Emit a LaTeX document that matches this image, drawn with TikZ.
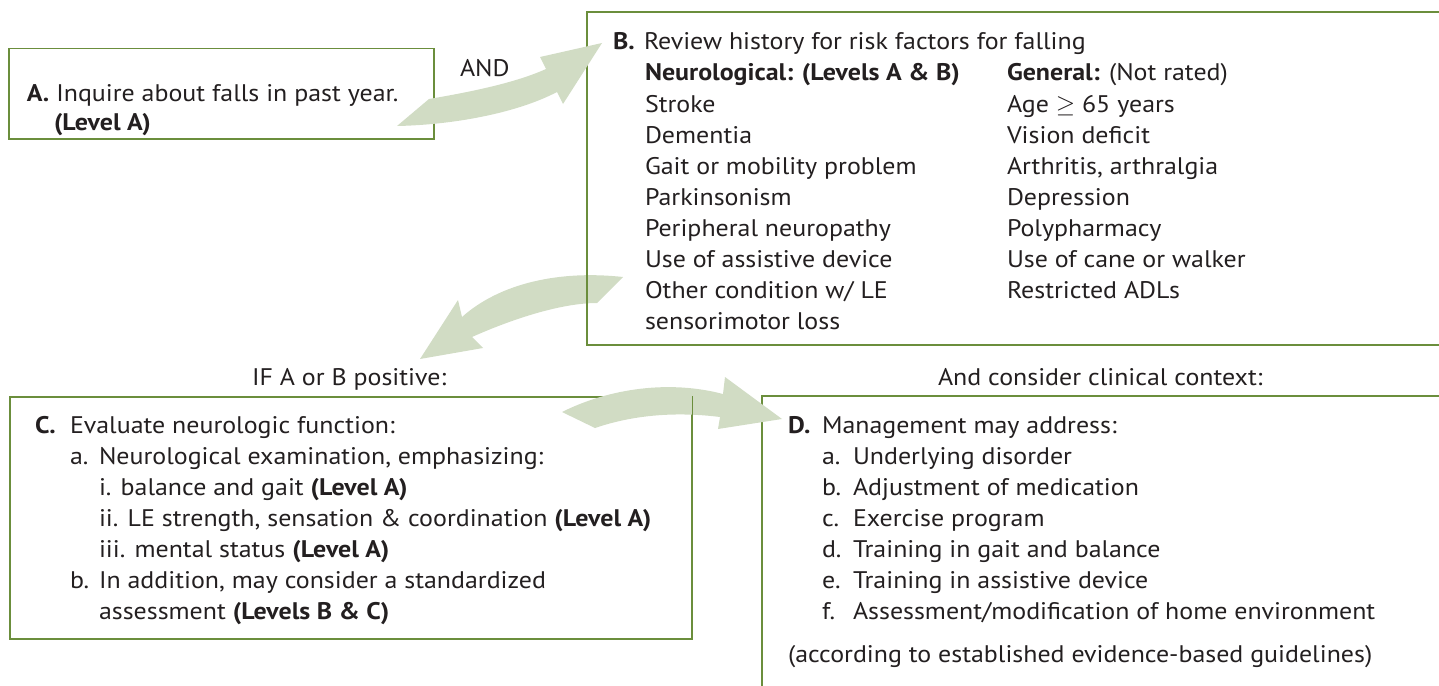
\documentclass[tikz,border=0pt]{standalone}
\usepackage{fontspec}
\setmainfont[FakeStretch=1.08]{PT Sans}
\definecolor{boxgreen}{HTML}{6B8E3C}
\definecolor{arrowgreen}{HTML}{D1DCC4}
\definecolor{txt}{HTML}{231F20}
\begin{document}
\begin{tikzpicture}[x=1pt,y=-1pt,
  txtline/.style={anchor=base west, inner sep=0pt, outer sep=0pt, text=txt, font=\fontsize{24}{29}\selectfont},
  boxframe/.style={draw=boxgreen, line width=1.5pt},
  bigarrow/.style={fill=arrowgreen, draw=none}]
\useasboundingbox (0,0) rectangle (1439,685);

% ---------- arrow B -> C (behind box B) ----------
\coordinate (a2t1) at (623,277); \coordinate (a2t2) at (597,303);
\coordinate (a2s1) at (462,317); \coordinate (a2s2) at (472,337);
\coordinate (a2b1) at (458,300); \coordinate (a2b2) at (483,348);
\coordinate (a2tip) at (420,359);
\fill[bigarrow] (a2t1) .. controls (560,270) and (500,283) .. (a2s1) -- (a2b1) -- (a2tip) -- (a2b2) -- (a2s2) .. controls (510,320) and (560,303) .. (a2t2) -- cycle;

% ---------- boxes ----------
\node[boxframe, anchor=north west, minimum width=425pt, minimum height=90pt, inner sep=0pt] (boxA) at (8,48) {};
\draw[boxframe] (1445,12) coordinate (boxBtr) -- (587,12) coordinate (boxBtl) -- (587,345) coordinate (boxBbl) -- (1445,345) coordinate (boxBbr);
\node[boxframe, anchor=north west, minimum width=682pt, minimum height=242pt, inner sep=0pt] (boxC) at (9,396) {};
\draw[boxframe] (1445,396) coordinate (boxDtr) -- (762,396) coordinate (boxDtl) -- (762,690) coordinate (boxDbl);

% ---------- arrow A -> B ----------
\coordinate (a1t1) at (397,126); \coordinate (a1t2) at (429,99);
\coordinate (a1s1) at (546,69);  \coordinate (a1s2) at (557,92);
\coordinate (a1b1) at (540,57);  \coordinate (a1b2) at (563,104);
\coordinate (a1tip) at (602,43);
\fill[bigarrow] (a1t1) .. controls (450,125) and (515,114) .. (a1s2) -- (a1b2) -- (a1tip) -- (a1b1) -- (a1s1) .. controls (515,83) and (470,92) .. (a1t2) -- cycle;

% ---------- arrow C -> D ----------
\coordinate (a3t1) at (562,412); \coordinate (a3t2) at (595,428);
\coordinate (a3s1) at (723,394); \coordinate (a3s2) at (720,417);
\coordinate (a3b1) at (725,377); \coordinate (a3b2) at (718,429);
\coordinate (a3tip) at (782,419);
\fill[bigarrow] (a3t1) .. controls (610,388) and (670,380) .. (a3s1) -- (a3b1) -- (a3tip) -- (a3b2) -- (a3s2) .. controls (672,411) and (630,416) .. (a3t2) -- cycle;
\draw[boxframe] (boxC.north east) -- (boxC.south east);

% ---------- A ----------
\node[txtline] (At1) at (27,101) {\textbf{A.} Inquire about falls in past year.};
\node[txtline] (At2) at (54,130) {\textbf{(Level A)}};

\node[txtline] (and) at (460,76) {AND};

% ---------- B ----------
\node[txtline] (Blab) at (613,50) {\textbf{B.}};
\node[txtline] (Bt) at (644,50) {Review history for risk factors for falling};
\node[txtline] (Bn0) at (645,81) {\textbf{Neurological: (Levels A \& B)}};
\node[txtline] (Bn1) at (645,112) {Stroke};
\node[txtline] (Bn2) at (645,143) {Dementia};
\node[txtline] (Bn3) at (645,174) {Gait or mobility problem};
\node[txtline] (Bn4) at (645,205) {Parkinsonism};
\node[txtline] (Bn5) at (645,236) {Peripheral neuropathy};
\node[txtline] (Bn6) at (645,267) {Use of assistive device};
\node[txtline] (Bn7) at (645,298) {Other condition w/ LE};
\node[txtline] (Bn8) at (645,329) {sensorimotor loss};
\node[txtline] (Bg0) at (1007,81) {\textbf{General:} (Not rated)};
\node[txtline] (Bg1) at (1007,112) {Age $\geq$ 65 years};
\node[txtline] (Bg2) at (1007,143) {Vision deficit};
\node[txtline] (Bg3) at (1007,174) {Arthritis, arthralgia};
\node[txtline] (Bg4) at (1007,205) {Depression};
\node[txtline] (Bg5) at (1007,236) {Polypharmacy};
\node[txtline] (Bg6) at (1007,267) {Use of cane or walker};
\node[txtline] (Bg7) at (1007,298) {Restricted ADLs};

\node[txtline] (ifab) at (252,385) {IF A or B positive:};
\node[txtline] (ctx) at (938,385) {And consider clinical context:};

% ---------- C ----------
\node[txtline] (Clab) at (35,433) {\textbf{C.}};
\node[txtline] (Ct) at (70,433) {Evaluate neurologic function:};
\node[txtline] (Cal) at (70,464) {a.};
\node[txtline] (Ca) at (99,464) {Neurological examination, emphasizing:};
\node[txtline] (Ci) at (99,495) {i. balance and gait \textbf{(Level A)}};
\node[txtline] (Cii) at (99,526) {ii. LE strength, sensation \& coordination \textbf{(Level A)}};
\node[txtline] (Ciii) at (99,557) {iii. mental status \textbf{(Level A)}};
\node[txtline] (Cbl) at (70,588) {b.};
\node[txtline] (Cb1) at (99,588) {In addition, may consider a standardized};
\node[txtline] (Cb2) at (99,619) {assessment \textbf{(Levels B \& C)}};

% ---------- D ----------
\node[txtline] (Dlab) at (788,433) {\textbf{D.}};
\node[txtline] (Dt) at (822,433) {Management may address:};
\node[txtline] (Dal) at (822,464) {a.}; \node[txtline] (Da) at (853,464) {Underlying disorder};
\node[txtline] (Dbl) at (822,495) {b.}; \node[txtline] (Db) at (853,495) {Adjustment of medication};
\node[txtline] (Dcl) at (822,526) {c.}; \node[txtline] (Dc) at (853,526) {Exercise program};
\node[txtline] (Ddl) at (822,557) {d.}; \node[txtline] (Dd) at (853,557) {Training in gait and balance};
\node[txtline] (Del) at (822,588) {e.}; \node[txtline] (De) at (853,588) {Training in assistive device};
\node[txtline] (Dfl) at (822,619) {f.};  \node[txtline] (Df) at (853,619) {Assessment/modification of home environment};
\node[txtline] (Dnote) at (788,662) {(according to established evidence-based guidelines)};
\end{tikzpicture}
\end{document}
